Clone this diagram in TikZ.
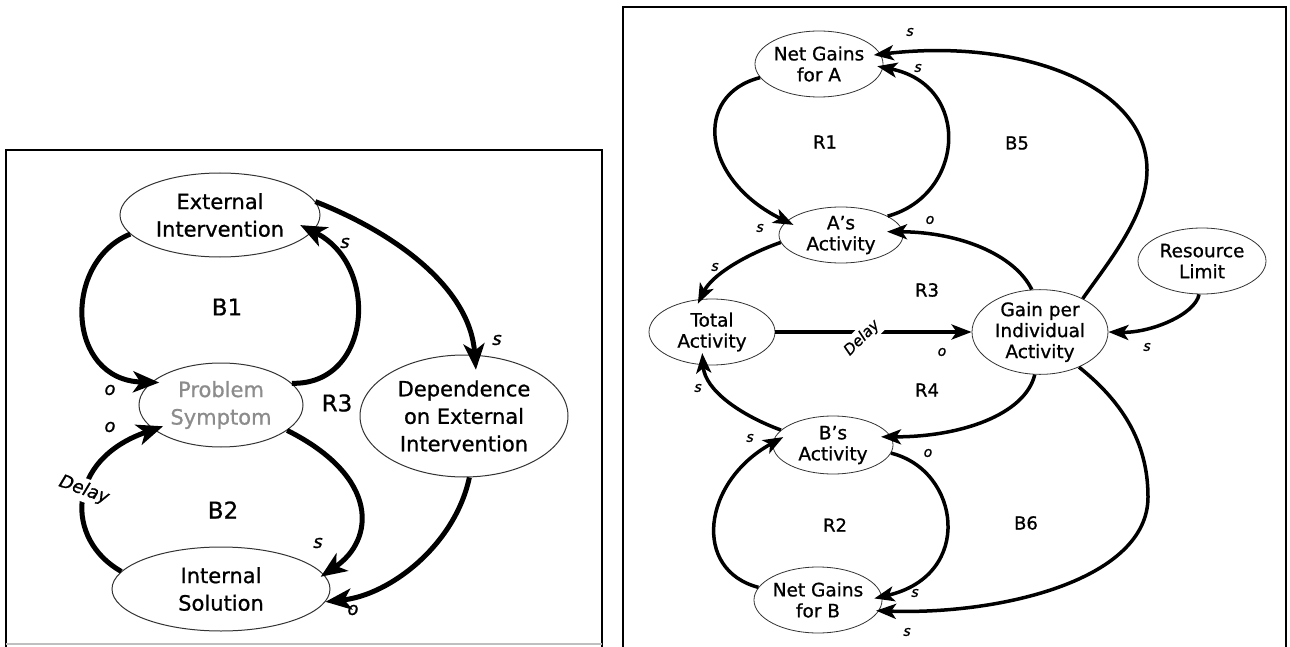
\documentclass[tikz,border=0pt]{standalone}
\usepackage{fontspec}
\setmainfont{DejaVu Sans}[FakeBold=0.9]
\usetikzlibrary{arrows.meta,shapes.geometric}
\begin{document}
\begin{tikzpicture}[x=1pt,y=-1pt,
  bignode/.style={ellipse, draw=black!80, line width=1pt, align=center, inner sep=0pt,
                  font=\fontsize{21}{27.5}\selectfont},
  smallnode/.style={ellipse, draw=black!80, line width=0.8pt, align=center, inner sep=0pt,
                    font=\fontsize{18.5}{21}\selectfont},
  bigarrow/.style={line width=5pt, -{Stealth[length=26pt,width=21pt,inset=7pt]}},
  smallarrow/.style={line width=3.5pt, -{Stealth[length=20pt,width=15pt,inset=5pt]}},
  bigpol/.style={font=\fontsize{18}{18}\selectfont\itshape, inner sep=1pt},
  smallpol/.style={font=\fontsize{14}{14}\selectfont\itshape, inner sep=1pt},
  bigloop/.style={font=\fontsize{23}{23}\selectfont},
  smallloop/.style={font=\fontsize{18}{18}\selectfont},
  frame/.style={line width=2pt, draw=black}
]
\useasboundingbox (0,0) rectangle (1290,647);

% ---------- frames ----------
\draw[frame] (6,647) -- (6,150) -- (602,150) -- (602,647);
\draw[line width=1.5pt, black!25] (6,644) -- (602,644);
\draw[frame] (623,647) -- (623,7) -- (1286,7) -- (1286,647);

% ---------- left diagram: nodes ----------
\node[bignode, minimum width=200pt, minimum height=84pt] (ext) at (220,215) {External\\Intervention};
\node[bignode, minimum width=164pt, minimum height=84pt, text=black!45] (prob) at (221,405) {Problem\\Symptom};
\node[bignode, minimum width=208pt, minimum height=122pt] (dep) at (464,416) {Dependence\\on External\\Intervention};
\node[bignode, minimum width=218pt, minimum height=84pt] (intl) at (221,589) {Internal\\Solution};

% ---------- left diagram: links ----------
\draw[bigarrow, shorten >=-8pt] (ext.192) .. controls (62,262) and (66,380) .. (prob.162);
\draw[bigarrow, shorten >=-14pt] (prob.17) .. controls (372,385) and (380,265) .. (ext.-10);
\draw[bigarrow, shorten >=-15pt] (ext.8) .. controls (400,235) and (470,290) .. (dep.80);
\draw[bigarrow] (dep.-85) .. controls (455,545) and (390,595) .. (intl.-7);
\draw[bigarrow, shorten >=-4pt] (prob.-21) .. controls (380,477) and (375,540) .. (intl.8);
\draw[bigarrow, shorten >=-10pt] (intl.170) .. controls (65,540) and (65,460) .. (prob.200);
\node[bigpol, fill=white, rotate=-20, inner sep=3pt] (delayl) at (84,490) {Delay};

% ---------- left diagram: labels ----------
\node[bigloop] (b1) at (227,307) {B1};
\node[bigloop] (b2) at (223,510) {B2};
\node[bigloop] (r3l) at (337,403) {R3};
\node[bigpol] (ls1) at (345,243) {s};
\node[bigpol] (ls2) at (497,340) {s};
\node[bigpol] (ls3) at (318,543) {s};
\node[bigpol] (lo1) at (353,610) {o};
\node[bigpol] (lo2) at (110,390) {o};
\node[bigpol] (lo3) at (110,427) {o};

% ---------- right diagram: nodes ----------
\node[smallnode, minimum width=128pt, minimum height=66pt] (nga) at (819,64) {Net Gains\\for A};
\node[smallnode, minimum width=124pt, minimum height=56pt] (aact) at (841,235) {A’s\\Activity};
\node[smallnode, minimum width=126pt, minimum height=66pt] (tot) at (712,332) {Total\\Activity};
\node[smallnode, minimum width=136pt, minimum height=80pt] (gain) at (1040,332) {Gain per\\Individual\\Activity};
\node[smallnode, minimum width=128pt, minimum height=66pt] (res) at (1202,261) {Resource\\Limit};
\node[smallnode, minimum width=120pt, minimum height=58pt] (bact) at (833,445) {B’s\\Activity};
\node[smallnode, minimum width=126pt, minimum height=66pt] (ngb) at (818,600) {Net Gains\\for B};

% ---------- right diagram: links ----------
\draw[smallarrow, shorten >=-8pt] (nga.193) .. controls (692,95) and (702,180) .. (aact.166);
\draw[smallarrow, shorten >=-6pt] (aact.22) .. controls (965,195) and (972,85) .. (nga.-3);
\draw[smallarrow, shorten >=-7pt] (gain.38) .. controls (1110,260) and (1147,215) .. (1147,170)
      .. controls (1147,85) and (1020,38) .. (nga.9);
\draw[smallarrow, shorten >=-16pt] (gain.101) .. controls (1015,255) and (960,232) .. (aact.3);
\draw[smallarrow, shorten >=-5pt] (aact.187) .. controls (745,255) and (712,275) .. (tot.110);
\draw[smallarrow] (tot.east) -- (gain.west);
\node[smallpol, font=\fontsize{15}{15}\selectfont\itshape, fill=white, rotate=45, inner sep=3pt] (delayr) at (862,338) {Delay};
\draw[smallarrow, shorten >=-12pt] (bact.164) .. controls (740,415) and (705,390) .. (tot.255);
\draw[smallarrow, shorten >=-10pt] (gain.263) .. controls (1025,415) and (960,437) .. (bact.8);
\draw[smallarrow, shorten >=-8pt] (bact.-8) .. controls (960,470) and (975,575) .. (ngb.3);
\draw[smallarrow, shorten >=-12pt] (ngb.168) .. controls (692,570) and (702,482) .. (bact.178);
\draw[smallarrow, shorten >=-3pt] (gain.-42) .. controls (1120,400) and (1148,440) .. (1148,497)
      .. controls (1148,580) and (1000,615) .. (ngb.-10);
\draw[smallarrow] (res.265) .. controls (1195,315) and (1150,333) .. (gain.0);

% ---------- right diagram: labels ----------
\node[smallloop] (r1) at (825,142) {R1};
\node[smallloop] (b5) at (1017,143) {B5};
\node[smallloop] (r3r) at (927,290) {R3};
\node[smallloop] (r4) at (927,390) {R4};
\node[smallloop] (r2) at (835,525) {R2};
\node[smallloop] (b6) at (1026,523) {B6};
\node[smallpol] (rs1) at (910,32) {s};
\node[smallpol] (rs2) at (918,68) {s};
\node[smallpol] (rs3) at (760,228) {s};
\node[smallpol] (ro1) at (930,220) {o};
\node[smallpol] (rs4) at (715,267) {s};
\node[smallpol] (ro2) at (942,352) {o};
\node[smallpol] (rs5) at (1147,347) {s};
\node[smallpol] (rs6) at (698,388) {s};
\node[smallpol] (rs7) at (750,438) {s};
\node[smallpol] (ro3) at (928,453) {o};
\node[smallpol] (rs8) at (915,593) {s};
\node[smallpol] (rs9) at (907,632) {s};
\end{tikzpicture}
\end{document}
